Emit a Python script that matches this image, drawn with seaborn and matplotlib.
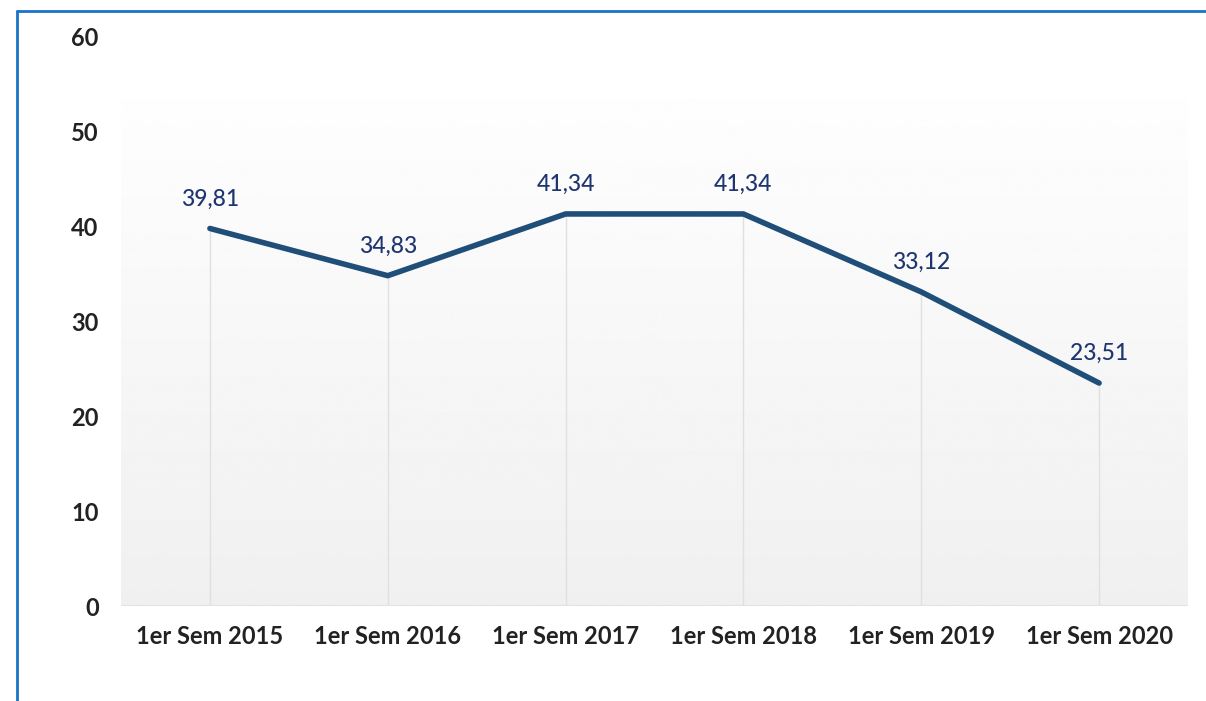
import numpy as np
import pandas as pd
import seaborn as sns
import matplotlib.pyplot as plt
from matplotlib.lines import Line2D

# data
periods = ['1er Sem 2015', '1er Sem 2016', '1er Sem 2017',
           '1er Sem 2018', '1er Sem 2019', '1er Sem 2020']
values = [39.81, 34.83, 41.34, 41.34, 33.12, 23.51]
value_labels = ['39,81', '34,83', '41,34', '41,34', '33,12', '23,51']
y_ticks = [0, 10, 20, 30, 40, 50, 60]

sns.set_style('white')
plt.rcParams['font.family'] = ['Lato', 'DejaVu Sans']

df = pd.DataFrame({'periodo': periods, 'valor': values})
df['pos'] = np.arange(len(df))

fig = plt.figure(figsize=(12.06, 7.01), dpi=100)
ax = fig.add_axes([121 / 1206, 95 / 701, 1067 / 1206, 569 / 701])

# light grey gradient panel behind the line
grad = np.linspace(0.94, 0.995, 256).reshape(-1, 1)
ax.imshow(grad, extent=(-0.5, 5.5, 0, 53.4), origin='lower', aspect='auto',
          cmap='gray', vmin=0, vmax=1, zorder=0)
ax.axhline(0, color='#e2e2e2', lw=1.5, zorder=1)

# drop lines from each point
ax.vlines(df['pos'], 0, df['valor'], color='#e0e0e0', lw=1, zorder=1)

sns.lineplot(data=df, x='pos', y='valor', color='#1f4e79', lw=4,
             sort=False, ax=ax, zorder=3, solid_capstyle='round')

for x, y, lab in zip(df['pos'], df['valor'], value_labels):
    ax.text(x, y + 2.0, lab, ha='center', va='bottom', fontsize=16.5,
            color='#1e3570', fontweight='medium', zorder=4)

ax.set_xlim(-0.5, 5.5)
ax.set_ylim(0, 60)
ax.set_yticks(y_ticks)
ax.set_xticks(df['pos'])
ax.set_xticklabels(periods)
ax.tick_params(axis='both', length=0, labelsize=17, labelcolor='#222222')
ax.tick_params(axis='y', pad=16)
ax.tick_params(axis='x', pad=14)
for lab in ax.get_xticklabels() + ax.get_yticklabels():
    lab.set_fontweight('bold')
ax.set_xlabel('')
ax.set_ylabel('')
sns.despine(ax=ax, left=True, bottom=True)

# blue frame on top and left edge of the picture
fig.add_artist(Line2D([17 / 1206, 17 / 1206], [0, 1 - 11 / 701],
                      color='#1a73c8', lw=2, transform=fig.transFigure))
fig.add_artist(Line2D([17 / 1206, 1], [1 - 11 / 701, 1 - 11 / 701],
                      color='#1a73c8', lw=2, transform=fig.transFigure))

fig.savefig('out.png', dpi=100)
